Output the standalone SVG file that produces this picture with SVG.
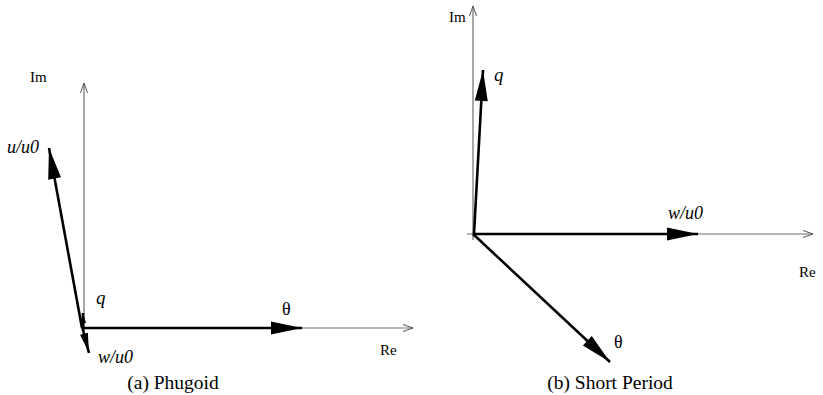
<svg xmlns="http://www.w3.org/2000/svg" width="823" height="395" viewBox="0 0 823 395">
<style>
.axis{stroke:#6e6e6e;stroke-width:1.2;fill:none}
.vec{stroke:#000;stroke-width:2.6;fill:none}
.t{font-family:"Liberation Serif","Times New Roman",serif;fill:#000}
.i{font-style:italic}
</style>
<defs>
<marker id="open" markerUnits="userSpaceOnUse" markerWidth="12" markerHeight="10" refX="0" refY="0" viewBox="-11 -5 12 10" orient="auto" overflow="visible">
<path d="M-10,-3.5 L0,0 L-10,3.5" fill="none" stroke="#555" stroke-width="1"/>
</marker>
<marker id="head" markerUnits="userSpaceOnUse" markerWidth="32" markerHeight="14" refX="0" refY="0" viewBox="-31 -7 32 14" orient="auto" overflow="visible">
<path d="M-31,-6.5 L0,0 L-31,6.5 z" fill="#000"/>
</marker>
<marker id="headS" markerUnits="userSpaceOnUse" markerWidth="22" markerHeight="10" refX="0" refY="0" viewBox="-21 -5 22 10" orient="auto" overflow="visible">
<path d="M-20,-4 L0,0 L-20,4 z" fill="#000"/>
</marker>
<marker id="headQ" markerUnits="userSpaceOnUse" markerWidth="12" markerHeight="8" refX="0" refY="0" viewBox="-11 -4 12 8" orient="auto" overflow="visible">
<path d="M-10,-3 L0,0 L-10,3 z" fill="#000"/>
</marker>
</defs>
<g id="connectors">
<line id="a-im" class="axis" x1="84" y1="330" x2="84" y2="83" marker-end="url(#open)"/>
<line id="a-re" class="axis" x1="84" y1="328" x2="413" y2="328" marker-end="url(#open)"/>
<line id="a-theta" class="vec" x1="83" y1="328" x2="302" y2="328" marker-end="url(#head)"/>
<line id="a-u" class="vec" x1="82" y1="328" x2="49" y2="148" marker-end="url(#head)"/>
<line id="a-w" class="vec" x1="82" y1="326" x2="89" y2="353" marker-end="url(#headS)"/>
<line id="a-q" class="vec" x1="83" y1="328" x2="83" y2="313" stroke-width="1.5" marker-end="url(#headQ)"/>
<line id="b-im" class="axis" x1="473" y1="240" x2="473" y2="6" marker-end="url(#open)"/>
<line id="b-re" class="axis" x1="467" y1="234" x2="813" y2="234" marker-end="url(#open)"/>
<line id="b-w" class="vec" x1="473" y1="234" x2="698" y2="234" marker-end="url(#head)"/>
<line id="b-q" class="vec" x1="474" y1="234" x2="483" y2="70" marker-end="url(#head)"/>
<line id="b-theta" class="vec" x1="473" y1="234" x2="610" y2="362" marker-end="url(#head)"/>
</g>
<g id="phugoid">
<text class="t" x="30" y="82" font-size="15">Im</text>
<text class="t i" x="7" y="153" font-size="18">u/u0</text>
<text class="t i" x="96" y="304" font-size="19">q</text>
<text class="t i" x="98" y="363" font-size="18">w/u0</text>
<text class="t" x="282" y="315" font-size="18">θ</text>
<text class="t" x="380" y="355" font-size="15">Re</text>
<text class="t" x="173" y="389" font-size="19.5" text-anchor="middle">(a) Phugoid</text>
</g>
<g id="short-period">
<text class="t" x="449" y="22" font-size="15">Im</text>
<text class="t i" x="494" y="81" font-size="19">q</text>
<text class="t i" x="668" y="219" font-size="18">w/u0</text>
<text class="t" x="799" y="277" font-size="15">Re</text>
<text class="t" x="614" y="348" font-size="18">θ</text>
<text class="t" x="610" y="389" font-size="19.5" text-anchor="middle">(b) Short Period</text>
</g>
</svg>
